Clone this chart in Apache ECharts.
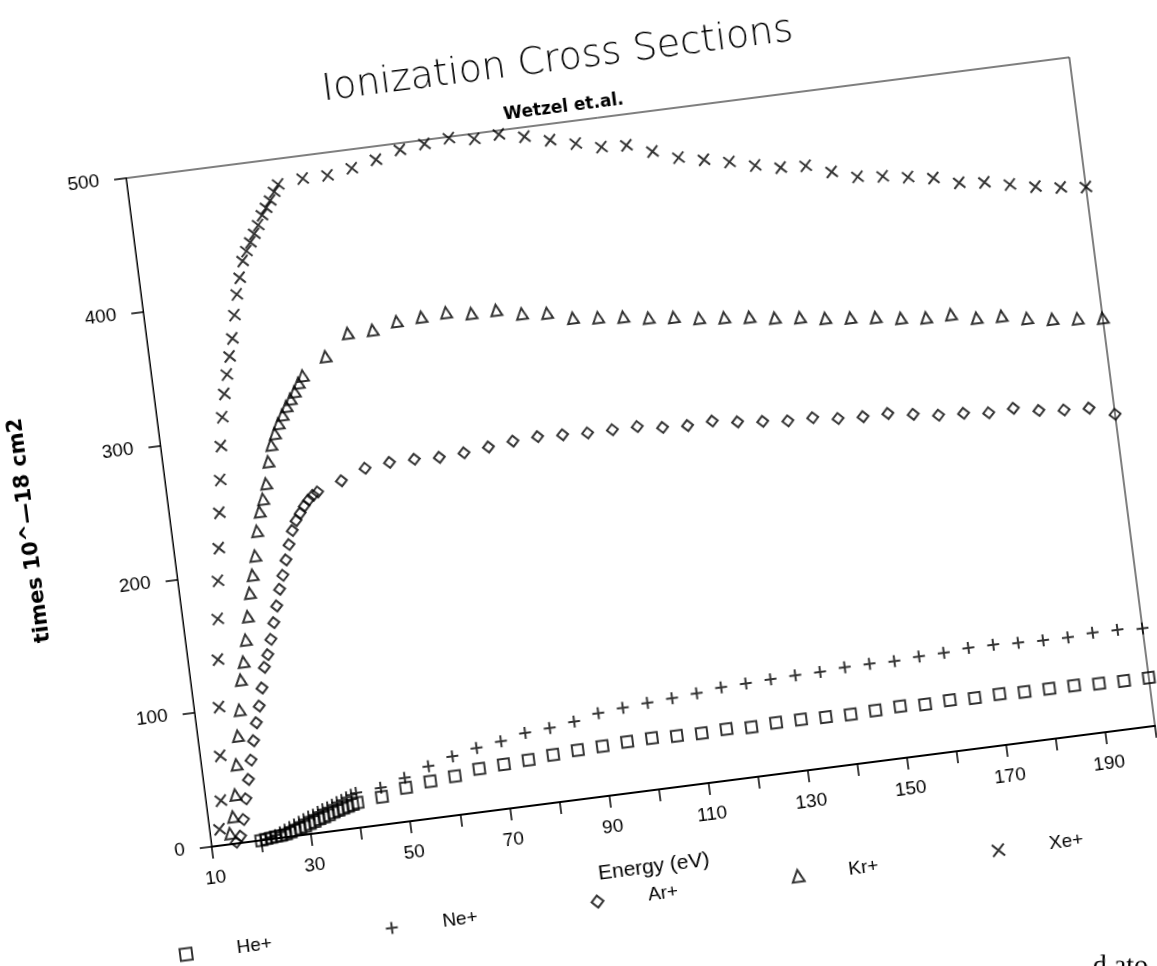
<!DOCTYPE html>
<html><head><meta charset="utf-8">
<script src="https://cdn.jsdelivr.net/npm/echarts@6/dist/echarts.min.js"></script>
<style>
html,body{margin:0;padding:0;background:#fff;overflow:hidden;width:1157px;height:966px;}
#chart{position:absolute;left:-100px;top:-100px;width:1357px;height:1166px;transform-origin:740.5px 552px;transform:rotate(-7.3deg);}
</style></head><body><div id="chart"></div>
<script>
// Energies (eV)
const sparseE = [45,50,55,60,65,70,75,80,85,90,95,100,105,110,115,120,125,130,135,140,145,150,155,160,165,170,175,180,185,190,195,200];
const heE = [20,21,22,23,24,25,26,27,28,29,30,31,32,33,34,35,36,37,38,39,40].concat(sparseE);
const heY = [0,0.5,1,1.5,1.5,2,3,4,5,6,7.5,8.5,10,11,12,13.5,14.5,15.5,16.5,17.5,18.6,
  20.5,25,27.5,29,32,33,34,35.4,36.5,37,38,38.3,37.7,37.3,38,37.1,38,38,37.4,37.1,37.7,38.3,37.5,38.2,37.5,38.1,37.2,37.2,37.3,36.3,35.9,36];
const neE = [20,21,22,23,24,25,26,27,28,29,30,31,32,33,34,35,36,37,38,39,40].concat(sparseE);
const neY = [0,0.5,1.5,2.5,4,5.5,7,8.5,10,11.5,13,14,15.5,17,18,19.5,21,22,23.5,25,26,
  27.5,32.5,38.7,43.8,47.6,50.3,54.1,55.5,57.9,61.8,63.5,64.7,65.8,67.1,69.2,69.8,70.4,71.1,71.2,72.4,72.6,72.2,73.2,73.6,75,75,74,73.5,73.2,74.4,74.2,72.8];
const arE = [15,16,17,18,19,20,21,22,23,24,25,26,27,28,29,30,31,32,33,34,35,36,37,38,39,40].concat(sparseE);
const arY = [1,5,17,32,46,60,74,87,99,112,127,136,147,159,171,183,193,204,215,225,232,237,242,246,249,251,
  257,264,266,266,265,266,268,270,271,270,269,269,269,266,265,266,263,261,259,259,256,255,255,252,249,248,246,247,243,241,240,233];
const krE = [14,15,16,17,18,19,20,21,22,23,24,25,26,27,28,29,30,31,32,33,34,35,36,37,38,39,40].concat(sparseE);
const krY = [8,20,36,58,79,98,120,133,149,166,183,196,210,228,242,251,262,278,290,298,305,311,317,322,327,333,338,
  350,365,365,369,370,371,368,368,363,361,355,353,351,348,346,343,341,339,336,334,331,329,327,324,322,322,317,316,312,309,307,305];
const xeE = [12,13,14,15,16,17,18,19,20,21,22,23,24,25,26,27,28,29,30,31,32,33,34,35,36,37,38,39,40].concat(sparseE);
const xeY = [12,33,66,102,137,167,195,219,245,269,294,315,332,346,359,372,389,404,416,428,435,441,447,453,460,465,470,476,481,
  483,483,486,490,495,497,499,496,497,493,488,483,478,477,470,463,459,455,450,446,445,438,432,430,427,424,418,416,412,408,405,403];
const seriesNames = ['He+','Ne+','Ar+','Kr+','Xe+'];
const xTickLabels = [10,30,50,70,90,110,130,150,170,190];

const zip = (xs, ys) => xs.map((x, i) => [x, ys[i]]);
const mk = {
  'He+': {symbol:'rect', size:11},
  'Ne+': {symbol:'path://M0,6H12M6,0V12', size:12},
  'Ar+': {symbol:'diamond', size:11},
  'Kr+': {symbol:'triangle', size:11},
  'Xe+': {symbol:'path://M0,0L12,12M12,0L0,12', size:11}
};
const dataMap = {'He+':zip(heE,heY),'Ne+':zip(neE,neY),'Ar+':zip(arE,arY),'Kr+':zip(krE,krY),'Xe+':zip(xeE,xeY)};

const chart = echarts.init(document.getElementById('chart'), null, {renderer:'canvas'});
chart.setOption({
  animation:false,
  backgroundColor:'#fff',
  title:[
    {text:'Ionization Cross Sections', left:703, top:129, textAlign:'center',
     textStyle:{fontSize:38, fontWeight:200, fontFamily:'DejaVu Sans', color:'#000'}},
    {text:'Wetzel et.al.', left:703, top:187, textAlign:'center',
     textStyle:{fontSize:17, fontWeight:'bold', fontFamily:'DejaVu Sans', color:'#000'}}
  ],
  legend:{
    data:seriesNames, left:214, top:978, orient:'horizontal',
    itemWidth:12, itemHeight:12, itemGap:114,
    textStyle:{fontSize:19, fontFamily:'Liberation Sans', color:'#000', padding:[0,0,0,40]},
    selectedMode:false
  },
  grid:{left:265, top:215, width:951, height:674, show:true, borderColor:'#000', borderWidth:1, backgroundColor:'transparent'},
  xAxis:{
    type:'value', min:10, max:200, interval:10,
    axisLine:{show:true, lineStyle:{color:'#000', width:2}},
    axisTick:{show:true, length:12, lineStyle:{color:'#000', width:1.5}},
    splitLine:{show:false},
    axisLabel:{color:'#000', fontSize:19, fontFamily:'Liberation Sans', margin:22,
      formatter:v => xTickLabels.indexOf(v) >= 0 ? String(v) : ''},
    name:'Energy (eV)', nameLocation:'middle', nameGap:66,
    nameTextStyle:{fontSize:21, fontFamily:'Liberation Sans', color:'#000', padding:[0,79,0,0]}
  },
  yAxis:{
    type:'value', min:0, max:500, interval:100,
    axisLine:{show:true, lineStyle:{color:'#000', width:1}},
    axisTick:{show:true, length:12, lineStyle:{color:'#000', width:1.5}},
    splitLine:{show:false},
    axisLabel:{color:'#000', fontSize:19, fontFamily:'Liberation Sans', margin:27},
    name:'times 10^—18 cm2', nameLocation:'middle', nameGap:130, nameRotate:90,
    nameTextStyle:{fontSize:21, fontWeight:'bold', fontFamily:'DejaVu Sans', color:'#000'}
  },
  graphic:[
    {type:'text', left:1122, top:1106, rotation:-0.1274,
     style:{text:'d ato', fontSize:28, fontFamily:'Liberation Serif', fill:'#000'}}
  ],
  series: seriesNames.map(n => ({
    name:n, type:'scatter', clip:false,
    symbol:mk[n].symbol, symbolSize:mk[n].size,
    itemStyle:{color:'transparent', borderColor:'#000', borderWidth:2},
    emphasis:{disabled:true},
    data:dataMap[n]
  }))
});
</script></body></html>
